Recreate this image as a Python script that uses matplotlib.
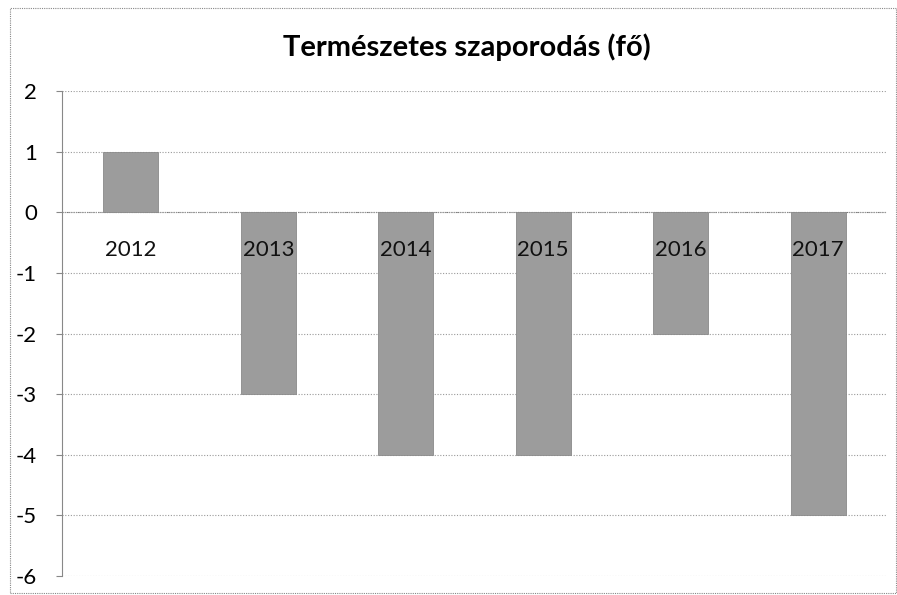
import matplotlib
matplotlib.use("Agg")
import matplotlib.pyplot as plt
from matplotlib.patches import Rectangle

years = ["2012", "2013", "2014", "2015", "2016", "2017"]
values = [1, -3, -4, -4, -2, -5]
yticks = [2, 1, 0, -1, -2, -3, -4, -5, -6]
title = "Természetes szaporodás (fő)"

plt.rcParams["font.family"] = ["Lato", "DejaVu Sans"]

fig = plt.figure(figsize=(8.97, 5.95), dpi=100)
ax = fig.add_axes([62 / 897, 19 / 595, 825 / 897, 485 / 595])

x = range(len(years))
ax.bar(x, values, width=0.4, color="#9c9c9c", edgecolor="#8a8a8a", linewidth=0.6, zorder=2)

for i, label in enumerate(years):
    ax.text(i, -0.62, label, ha="center", va="center", fontsize=16, color="#111111", zorder=3)

ax.set_xlim(-0.5, len(years) - 0.5)
ax.set_ylim(-6, 2)
ax.set_yticks(yticks)
ax.set_yticklabels([str(t) for t in yticks], fontsize=16)
ax.set_xticks([])
ax.yaxis.grid(True, color="#9a9a9a", linestyle=(0, (1, 1.5)), linewidth=0.8, zorder=0)
ax.axhline(0, color="#777777", linestyle=(0, (1, 1)), linewidth=0.8, zorder=1)
for side in ["top", "right", "bottom"]:
    ax.spines[side].set_visible(False)
ax.spines["left"].set_color("#888888")
ax.spines["left"].set_linestyle((0, (1, 1)))
ax.spines["left"].set_linewidth(0.8)
ax.tick_params(axis="y", length=4, color="#888888", pad=14)

fig.text(0.52, 1 - 47 / 595, title, ha="center", va="center", fontsize=21, fontweight="bold")
fig.patches.append(Rectangle((10 / 897, 2 / 595), 886 / 897, 585 / 595, transform=fig.transFigure,
                             fill=False, edgecolor="#888888", linestyle=(0, (1, 1)), linewidth=0.8))

fig.savefig("out.png", dpi=100)
